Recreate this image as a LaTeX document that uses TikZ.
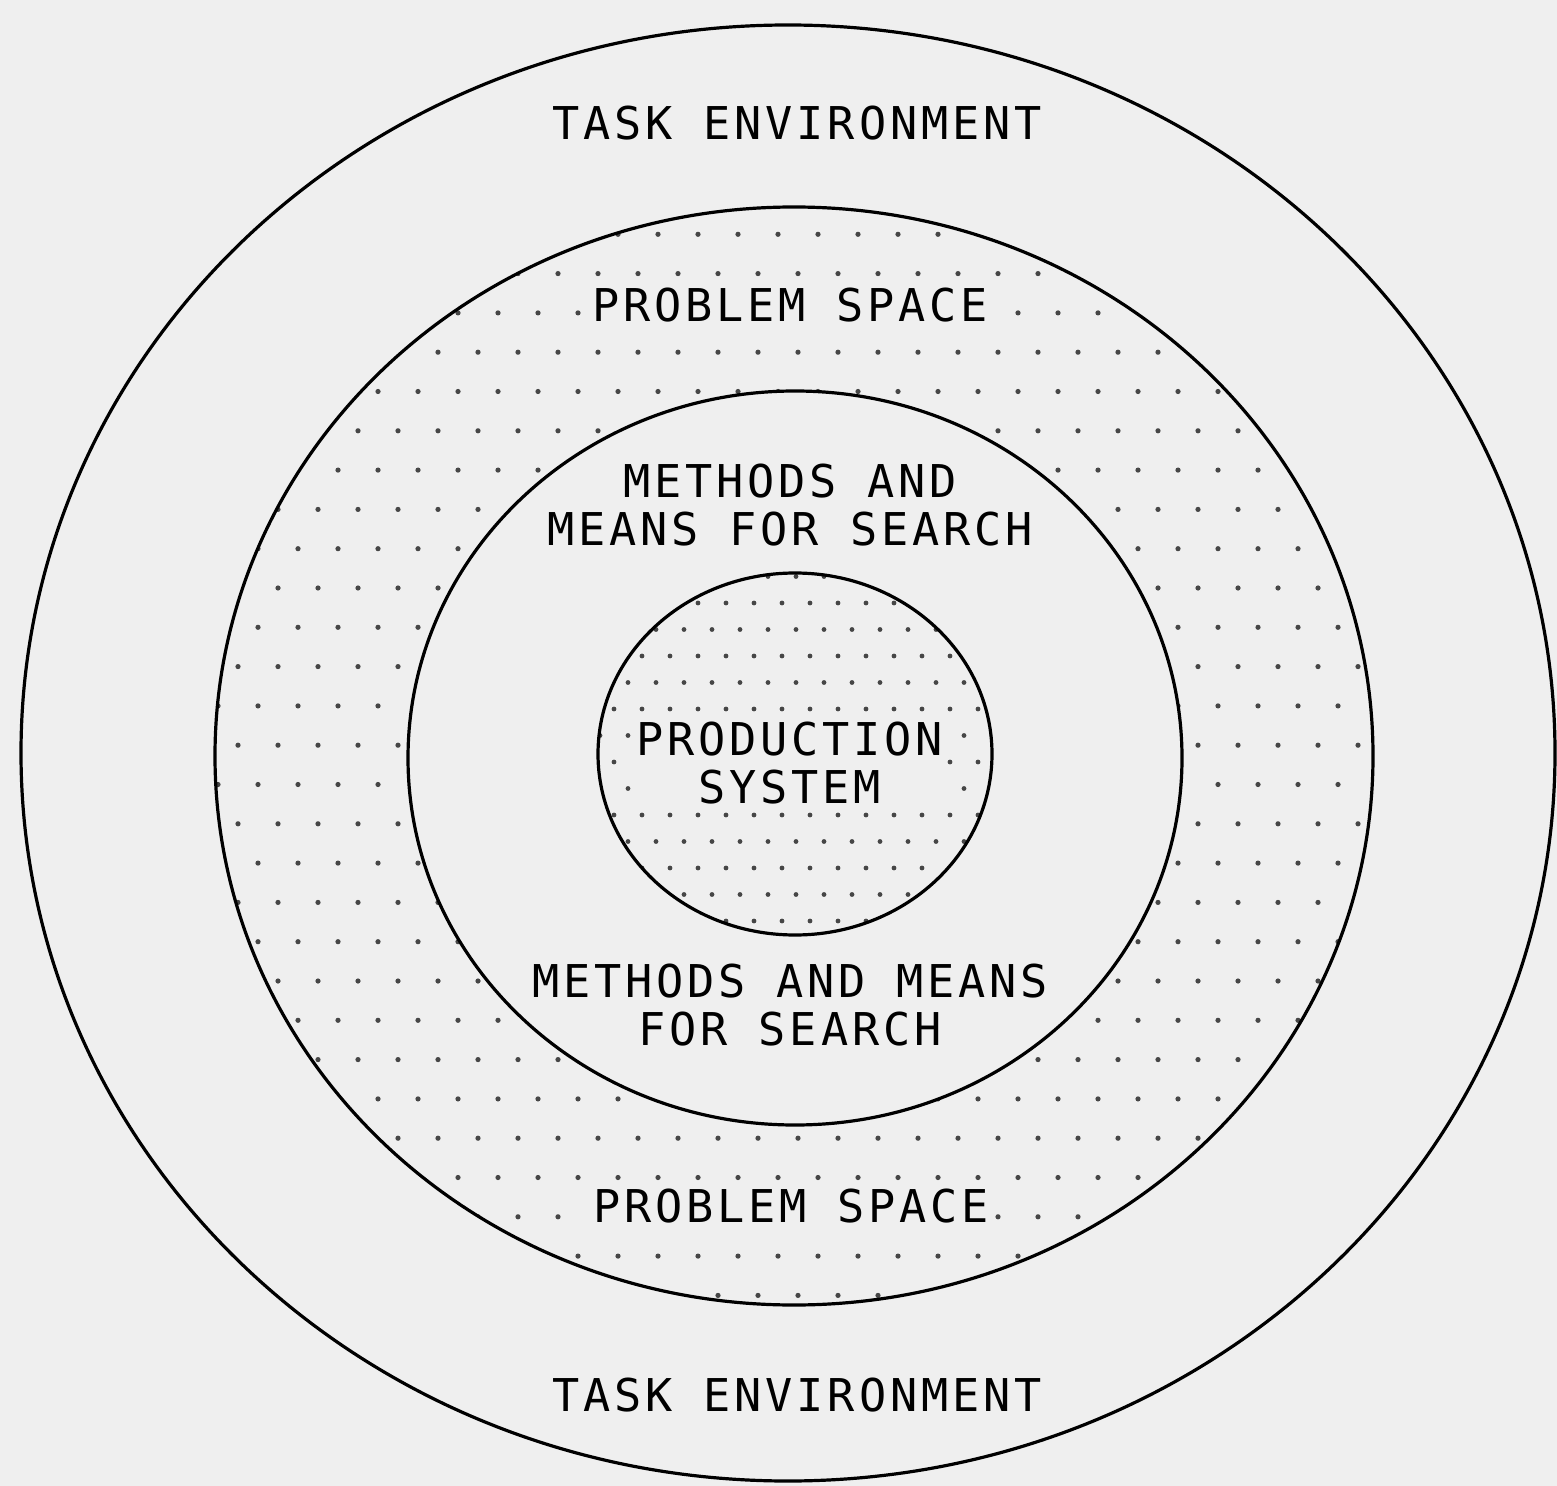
\documentclass[tikz,border=0pt]{standalone}
\usepackage{fontspec}
\usepackage{tikz}

\newfontfamily\plotfont{DejaVu Sans Mono}[LetterSpace=8.4]
\definecolor{paper}{RGB}{239,239,239}
\definecolor{speckc}{RGB}{70,70,70}

\tikzset{
  shell/.style={line width=1.6pt, draw=black},
  lbl/.style={font=\plotfont\fontsize{22.6}{24}\selectfont, align=center,
    fill=paper, inner sep=1.5pt},
}

\begin{document}
\begin{tikzpicture}[x=0.5pt, y=-0.5pt]
            \useasboundingbox (0,0) rectangle (1557,1486);
            \fill[paper] (0,0) rectangle (1557,1486);

            % dotted problem space ring
            \begin{scope}
              \clip (794,756) ellipse [x radius=579, y radius=549];
              \foreach \r in {0,...,30}
                \foreach \c in {0,...,30}
                  \fill[speckc] ({198+40*\c+20*mod(\r,2)}, {195+39.3*\r}) circle (2.6);
            \end{scope}
            \fill[paper] (795,758) ellipse [x radius=387, y radius=367];

            % dotted production system
            \begin{scope}
              \clip (795,754) ellipse [x radius=197, y radius=181];
              \foreach \r in {0,...,14}
                \foreach \c in {0,...,14}
                  \fill[speckc] ({600+28*\c+14*mod(\r,2)}, {576.5+26.5*\r}) circle (2.4);
            \end{scope}

            % labels first, so that the rings stay on top
            \node[lbl] (taskTop) at (797,123) {TASK ENVIRONMENT};
            \node[lbl] (spaceTop) at (790,305) {PROBLEM SPACE};
            \node[lbl] (methTop) at (790,505) {METHODS AND\\MEANS FOR SEARCH};
            \node[lbl] (prod) at (790,763) {PRODUCTION\\SYSTEM};
            \node[lbl] (methBot) at (790,1005) {METHODS AND MEANS\\FOR SEARCH};
            \node[lbl] (spaceBot) at (791,1206) {PROBLEM SPACE};
            \node[lbl] (taskBot) at (797,1395) {TASK ENVIRONMENT};

            \draw[shell] (788,753) ellipse [x radius=767, y radius=728];
            \draw[shell] (794,756) ellipse [x radius=579, y radius=549];
            \draw[shell] (795,758) ellipse [x radius=387, y radius=367];
            \draw[shell] (795,754) ellipse [x radius=197, y radius=181];
        \end{tikzpicture}
\end{document}
